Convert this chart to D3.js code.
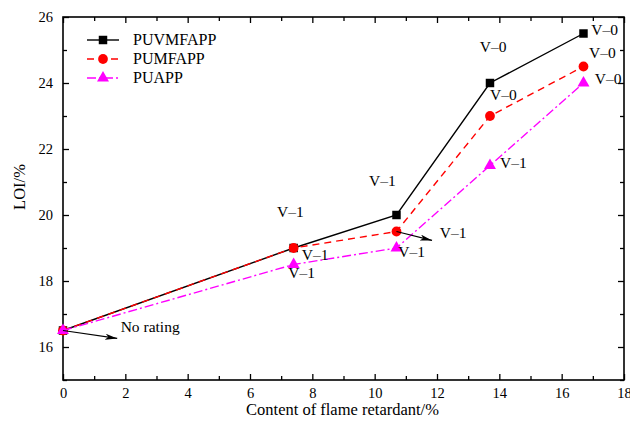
<!DOCTYPE html>
<html>
<head>
<meta charset="utf-8">
<script src="https://cdn.jsdelivr.net/npm/d3@7"></script>
<style>
  body { margin: 0; background: #fff; }
  svg { display: block; }
  svg text { font-family: "Liberation Serif", "DejaVu Serif", "Times New Roman", Times, serif !important; }
</style>
</head>
<body>
<div id="chart"></div>
<script>
// chart values
var contents = [0, 7.4, 10.7, 13.7, 16.7];
var puvmfapp = [16.5, 19, 20, 24, 25.5];
var pumfapp = [16.5, 19, 19.5, 23, 24.5];
var puapp = [16.5, 18.5, 19, 21.5, 24];
var seriesNames = ["PUVMFAPP", "PUMFAPP", "PUAPP"];
var xTicks = [0, 2, 4, 6, 8, 10, 12, 14, 16, 18];
var yTicks = [16, 18, 20, 22, 24, 26];

// rating notes (data units: x, y of text start / baseline)
var noteText = ["V–1", "V–1", "V–1", "V–1", "V–1", "V–1", "V–0", "V–0", "V–1", "V–0", "V–0", "V–0", "No rating"];
var noteX = [6.87, 7.66, 7.23, 9.82, 10.76, 12.09, 13.37, 13.7, 14.02, 16.95, 16.88, 17.06, 1.85];
var noteY = [19.93, 18.63, 18.09, 20.87, 18.73, 19.29, 24.94, 23.48, 21.41, 25.45, 24.77, 23.96, 16.45];
// arrows: from -> to
var arrowFrom = [[0, 16.5], [10.7, 19.5]];
var arrowTo = [[1.74, 16.26], [11.84, 19.23]];

var FONT = "'Liberation Serif', 'DejaVu Serif', serif";
var W = 630, H = 423;
var margin = { top: 17, right: 6, bottom: 43, left: 63 };
var width = W - margin.left - margin.right,
    height = H - margin.top - margin.bottom;

var svg = d3.select("#chart").append("svg")
    .attr("width", W).attr("height", H)
    .attr("font-family", FONT);

var defs = svg.append("defs");
defs.append("marker")
    .attr("id", "arrowhead")
    .attr("viewBox", "0 0 12 6")
    .attr("refX", 12).attr("refY", 3)
    .attr("markerWidth", 12).attr("markerHeight", 6)
    .attr("markerUnits", "userSpaceOnUse")
    .attr("orient", "auto")
    .append("path").attr("d", "M0,0 L12,3 L0,6 L3,3 Z").attr("fill", "#000");

var g = svg.append("g").attr("transform", "translate(" + margin.left + "," + margin.top + ")");

var x = d3.scaleLinear().domain([0, 18]).range([0, width]);
var y = d3.scaleLinear().domain([15, 26]).range([height, 0]);

var minorX = d3.range(1, 18, 2), minorY = d3.range(15, 26, 2);

function tickStyle(sel) {
    sel.attr("font-family", FONT).attr("font-size", 14.5);
    sel.select(".domain").remove();
    sel.selectAll("line").attr("stroke", "#000").attr("stroke-width", 1.3);
    sel.selectAll("text").attr("fill", "#000");
}

// bottom
g.append("g").attr("transform", "translate(0," + height + ")")
    .call(d3.axisBottom(x).tickValues(xTicks).tickSize(-6).tickPadding(8).tickFormat(d3.format("d")))
    .call(tickStyle);
g.append("g").attr("transform", "translate(0," + height + ")")
    .call(d3.axisBottom(x).tickValues(minorX).tickSize(-4).tickFormat(""))
    .call(tickStyle);
// left
g.append("g")
    .call(d3.axisLeft(y).tickValues(yTicks).tickSize(-6).tickPadding(10).tickFormat(d3.format("d")))
    .call(tickStyle);
g.append("g")
    .call(d3.axisLeft(y).tickValues(minorY).tickSize(-4).tickFormat(""))
    .call(tickStyle);
// top
g.append("g")
    .call(d3.axisTop(x).tickValues(xTicks).tickSize(-6).tickFormat(""))
    .call(tickStyle);
g.append("g")
    .call(d3.axisTop(x).tickValues(minorX).tickSize(-4).tickFormat(""))
    .call(tickStyle);
// right
g.append("g").attr("transform", "translate(" + width + ",0)")
    .call(d3.axisRight(y).tickValues(yTicks).tickSize(-6).tickFormat(""))
    .call(tickStyle);
g.append("g").attr("transform", "translate(" + width + ",0)")
    .call(d3.axisRight(y).tickValues(minorY).tickSize(-4).tickFormat(""))
    .call(tickStyle);

g.append("rect").attr("width", width).attr("height", height)
    .attr("fill", "none").attr("stroke", "#000").attr("stroke-width", 1.6);

// series
var series = [
    { name: seriesNames[0], values: puvmfapp, color: "#000000", dash: null, shape: d3.symbolSquare, size: 72 },
    { name: seriesNames[1], values: pumfapp, color: "#ff0000", dash: "7,5", shape: d3.symbolCircle, size: 75 },
    { name: seriesNames[2], values: puapp, color: "#ff00ff", dash: "9,3,2,3", shape: d3.symbolTriangle, size: 62 }
];

var line = d3.line().x(function (d, i) { return x(contents[i]); }).y(function (d) { return y(d); });

series.forEach(function (s) {
    g.append("path").datum(s.values)
        .attr("d", line)
        .attr("fill", "none")
        .attr("stroke", s.color)
        .attr("stroke-width", 1.4)
        .attr("stroke-dasharray", s.dash);
    g.selectAll(null).data(s.values).enter().append("path")
        .attr("transform", function (d, i) { return "translate(" + x(contents[i]) + "," + y(d) + ")"; })
        .attr("d", d3.symbol().type(s.shape).size(s.size))
        .attr("fill", s.color);
});

// arrows
arrowFrom.forEach(function (p, i) {
    g.append("line")
        .attr("x1", x(p[0])).attr("y1", y(p[1]))
        .attr("x2", x(arrowTo[i][0])).attr("y2", y(arrowTo[i][1]))
        .attr("stroke", "#000").attr("stroke-width", 1.2)
        .attr("marker-end", "url(#arrowhead)");
});

// notes
g.selectAll(".note").data(noteText).enter().append("text")
    .attr("class", "note")
    .attr("x", function (d, i) { return x(noteX[i]); })
    .attr("y", function (d, i) { return y(noteY[i]); })
    .attr("font-size", 15.5)
    .text(function (d) { return d; });

// legend
var legend = svg.append("g").attr("transform", "translate(87,40)");
series.forEach(function (s, i) {
    var row = legend.append("g").attr("transform", "translate(0," + (i * 19) + ")");
    row.append("line").attr("x1", 0).attr("x2", 32).attr("y1", 0).attr("y2", 0)
        .attr("stroke", s.color).attr("stroke-width", 1.4)
        .attr("stroke-dasharray", s.dash);
    row.append("path").attr("transform", "translate(16,0)")
        .attr("d", d3.symbol().type(s.shape).size(s.size))
        .attr("fill", s.color);
    row.append("text").attr("x", 46).attr("y", 5).attr("font-size", 16).text(s.name);
});

// axis titles
svg.append("text")
    .attr("x", margin.left + width / 2 - 1).attr("y", 415)
    .attr("text-anchor", "middle").attr("font-size", 16.5)
    .text("Content of flame retardant/%");
svg.append("text")
    .attr("transform", "translate(25,187) rotate(-90)")
    .attr("text-anchor", "middle").attr("font-size", 16.5)
    .text("LOI/%");
</script>
</body>
</html>
